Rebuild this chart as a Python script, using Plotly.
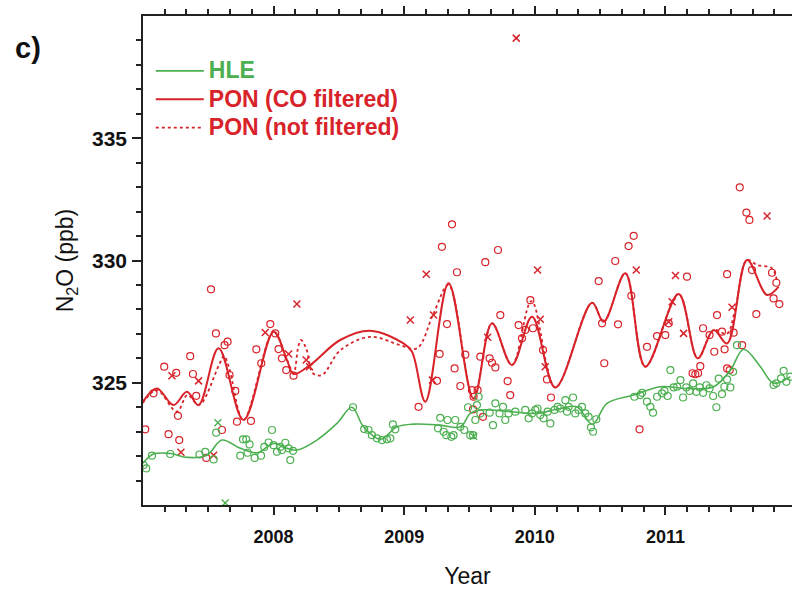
import plotly.graph_objects as go

# ---- N2O series (decimal year, ppb) ----
RED = "#D8232A"
GREEN = "#4CAF50"

# HLE smoothed curve
hle_line_x = [2007.00, 2007.08, 2007.21, 2007.34, 2007.49, 2007.605, 2007.745, 2007.873, 2008.00,
              2008.103, 2008.179, 2008.332, 2008.485, 2008.60, 2008.689, 2008.817, 2008.945,
              2009.072, 2009.276, 2009.43, 2009.506, 2009.583, 2009.812, 2010.017, 2010.195,
              2010.323, 2010.44, 2010.553, 2010.757, 2010.961, 2011.165, 2011.369, 2011.497,
              2011.599, 2011.727, 2011.828, 2011.956]
hle_line_y = [321.71, 322.09, 322.11, 321.95, 322.04, 322.66, 322.32, 322.14, 322.52,
              322.32, 322.25, 322.66, 323.34, 324.00, 323.20, 322.69, 323.20,
              323.31, 323.27, 323.20, 323.75, 323.89, 323.82, 323.75, 323.95,
              324.02, 323.30, 324.16, 324.50, 324.84, 324.77, 324.84, 325.52,
              326.37, 325.66, 324.98, 325.25]

# PON, CO filtered smoothed curve
pon_f_x = [2007.00, 2007.107, 2007.234, 2007.337, 2007.426, 2007.579, 2007.77, 2008.00, 2008.103,
           2008.153, 2008.281, 2008.51, 2008.74, 2008.995, 2009.06, 2009.162, 2009.34, 2009.531,
           2009.672, 2009.825, 2009.979, 2010.157, 2010.438, 2010.527, 2010.693, 2010.846,
           2011.101, 2011.247, 2011.369, 2011.472, 2011.625, 2011.778, 2011.867]
pon_f_y = [324.23, 324.77, 324.09, 324.63, 324.09, 326.41, 323.48, 327.09, 325.93,
           325.36, 325.73, 326.75, 327.13, 326.61, 326.27, 324.23, 329.07, 324.36,
           327.43, 325.73, 327.70, 324.81, 328.27, 327.50, 329.48, 325.66,
           328.63, 326.00, 327.16, 326.61, 330.02, 328.59, 328.93]

# PON, not filtered smoothed curve
pon_u_x = [2007.00, 2007.107, 2007.26, 2007.34, 2007.43, 2007.58, 2007.62, 2007.66, 2007.77,
           2008.00, 2008.103, 2008.153, 2008.19, 2008.21, 2008.25, 2008.30, 2008.371, 2008.511,
           2008.74, 2008.97, 2009.098, 2009.225, 2009.34, 2009.531, 2009.672, 2009.825,
           2009.975, 2010.157, 2010.438, 2010.527, 2010.693, 2010.846, 2011.101, 2011.247,
           2011.369, 2011.47, 2011.53, 2011.625, 2011.70, 2011.816, 2011.854]
pon_u_y = [324.18, 324.70, 323.82, 324.50, 324.10, 325.70, 326.10, 325.60, 323.48,
           327.09, 325.93, 325.40, 326.50, 326.75, 326.40, 325.40, 325.32, 326.33,
           326.88, 326.54, 326.41, 327.84, 329.00, 324.36, 327.43, 325.73,
           328.34, 324.81, 328.27, 327.50, 329.48, 325.66, 328.63, 326.00,
           327.16, 327.00, 327.90, 330.02, 329.82, 329.68, 329.13]

# HLE flask samples
hle_o_x = [2007.005, 2007.025, 2007.069, 2007.209, 2007.433, 2007.477, 2007.541, 2007.561, 2007.745,
           2007.766, 2007.791, 2007.816, 2007.801, 2007.855, 2007.904, 2007.929, 2007.962, 2007.988,
           2008.000, 2008.026, 2008.051, 2008.064, 2008.090, 2008.115, 2008.128, 2008.149,
           2008.608, 2008.694, 2008.727, 2008.753, 2008.792, 2008.830, 2008.868, 2008.894,
           2008.914, 2008.932, 2009.259, 2009.276, 2009.302, 2009.322, 2009.332, 2009.361,
           2009.378, 2009.391, 2009.430, 2009.460, 2009.489, 2009.506, 2009.527, 2009.557,
           2009.570, 2009.583, 2009.545, 2009.654, 2009.680, 2009.698, 2009.730, 2009.757,
           2009.774, 2009.799, 2009.851, 2009.927, 2009.953, 2009.979, 2010.004, 2010.021,
           2010.042, 2010.067, 2010.098, 2010.119, 2010.152, 2010.175, 2010.195, 2010.234,
           2010.247, 2010.259, 2010.293, 2010.310, 2010.335, 2010.361, 2010.387, 2010.412,
           2010.430, 2010.446, 2010.471, 2010.762, 2010.808, 2010.821, 2010.859, 2010.885,
           2010.905, 2010.936, 2010.974, 2010.992, 2011.017, 2011.038, 2011.063, 2011.089,
           2011.115, 2011.135, 2011.160, 2011.185, 2011.212, 2011.237, 2011.262, 2011.288,
           2011.314, 2011.338, 2011.365, 2011.390, 2011.408, 2011.433, 2011.451, 2011.472,
           2011.497, 2011.518, 2011.548, 2011.828, 2011.849, 2011.885, 2011.905, 2011.926,
           2011.956]
hle_o_y = [321.64, 321.50, 322.02, 322.09, 322.07, 322.18, 321.87, 322.96, 322.02,
           322.69, 322.69, 322.48, 322.14, 321.93, 322.02, 322.38, 322.56, 323.07,
           322.45, 322.18, 322.38, 322.25, 322.55, 322.32, 321.84, 322.22,
           324.00, 323.11, 323.07, 322.86, 322.73, 322.66, 322.69, 322.73,
           323.30, 323.10, 323.14, 323.57, 323.00, 322.86, 323.48, 322.79,
           322.86, 323.48, 323.20, 323.07, 324.00, 322.86, 322.86, 324.09,
           324.43, 323.75, 323.48, 323.78, 323.27, 324.16, 323.75, 324.02,
           323.48, 323.75, 323.82, 323.89, 323.55, 323.75, 323.89, 323.95,
           323.68, 323.55, 323.82, 323.34, 323.89, 324.02, 323.95, 324.29,
           323.82, 324.02, 324.40, 323.75, 323.89, 324.02, 323.75, 323.61,
           323.18, 323.00, 323.51, 324.43, 324.50, 324.59, 324.23, 324.02,
           323.78, 324.43, 324.57, 324.67, 324.46, 325.52, 324.81, 324.84,
           325.11, 324.40, 324.81, 324.67, 324.98, 324.63, 324.81, 324.59,
           324.90, 324.77, 324.46, 324.00, 325.17, 324.54, 324.84, 325.14,
           324.81, 325.45, 326.54, 324.91, 324.98, 325.18, 325.49, 325.04,
           325.25]
hle_x_x = [2007.574, 2007.630, 2009.531]
hle_x_y = [323.37, 320.09, 322.82]

# PON flask samples
pon_o_x = [2007.018, 2007.081, 2007.163, 2007.196, 2007.255, 2007.268, 2007.278, 2007.362, 2007.383,
           2007.408, 2007.485, 2007.521, 2007.559, 2007.605, 2007.625, 2007.648, 2007.663, 2007.707,
           2007.720, 2007.827, 2007.868, 2007.906, 2007.975, 2008.013, 2008.038, 2008.064,
           2008.097, 2008.153, 2009.110, 2009.251, 2009.271, 2009.289, 2009.328, 2009.386,
           2009.404, 2009.430, 2009.468, 2009.366, 2009.621, 2009.718, 2009.736, 2009.583,
           2009.654, 2009.672, 2009.698, 2009.519, 2009.562, 2009.531, 2009.792, 2009.812,
           2009.603, 2009.527, 2009.876, 2009.902, 2009.927, 2009.966, 2009.986, 2010.063,
           2010.093, 2010.124, 2010.489, 2010.515, 2010.532, 2010.616, 2010.637, 2010.718,
           2010.757, 2010.739, 2010.802, 2010.859, 2010.936, 2010.999, 2011.025, 2011.165,
           2011.208, 2011.229, 2011.250, 2011.267, 2011.288, 2011.338, 2011.374, 2011.395,
           2011.433, 2011.453, 2011.472, 2011.472, 2011.492, 2011.522, 2011.587, 2011.569,
           2011.620, 2011.643, 2011.663, 2011.696, 2011.816, 2011.849, 2011.828, 2011.872]
pon_o_y = [323.10, 324.57, 325.66, 322.90, 325.41, 323.65, 322.66, 326.09, 325.36,
           324.47, 321.93, 328.82, 327.02, 323.07, 326.54, 326.68, 325.32, 324.67,
           323.41, 323.44, 326.37, 325.80, 327.40, 327.02, 326.38, 326.00,
           325.52, 325.29, 324.02, 325.08, 326.18, 330.56, 327.40, 325.59,
           329.52, 324.87, 326.15, 331.48, 329.93, 330.43, 327.77, 326.07,
           326.00, 325.82, 325.63, 324.70, 324.70, 324.43, 325.07, 324.50,
           323.61, 323.91, 327.36, 326.82, 327.16, 328.38, 327.23, 326.34,
           325.14, 324.40, 329.16, 327.43, 325.80, 329.98, 327.39, 330.59,
           331.01, 328.56, 323.10, 326.47, 326.91, 326.95, 327.43, 329.34,
           325.39, 325.35, 325.39, 325.68, 327.23, 326.95, 326.27, 327.77,
           327.09, 326.37, 329.44, 325.59, 325.52, 327.05, 326.54, 332.99,
           331.96, 331.66, 329.61, 327.81, 329.50, 329.09, 328.45, 328.22]
pon_x_x = [2007.222, 2007.291, 2007.426, 2007.541, 2007.936, 2008.115, 2008.179, 2008.250, 2008.276,
           2009.047, 2009.169, 2009.225, 2009.217, 2009.639, 2010.021, 2010.042, 2010.080,
           2010.777, 2011.052, 2011.025, 2011.077, 2011.139, 2011.510, 2011.778, 2009.858]
pon_x_y = [325.29, 322.16, 325.08, 322.04, 327.06, 326.18, 328.22, 325.93, 325.66,
           327.57, 329.44, 327.77, 325.11, 326.86, 329.61, 327.60, 325.66,
           329.61, 328.31, 327.50, 329.39, 327.02, 328.09, 331.82, 339.09]

# Axis extents (years / ppb)
year_range = [2007.0005, 2011.969]
ppb_range = [320.005, 339.995]
labelled_years = [2008, 2009, 2010, 2011]
labelled_ppb = [325, 330, 335]

# Two-monthly ticks on the time axis, 1 ppb ticks on the N2O axis;
# only whole years / multiples of 5 ppb carry a label.
month_ticks = [2007 + k / 6 for k in range(1, 30)]
month_text = [str(round(v)) if abs(v - round(v)) < 1e-6 and round(v) in labelled_years else ""
              for v in month_ticks]
ppb_fine = list(range(321, 340))
ppb_text = [str(v) if v in labelled_ppb else "" for v in ppb_fine]

FONT = "Liberation Sans, Arial, sans-serif"
AXIS_COLOR = "#222"

fig = go.Figure()


def markers(x, y, color, symbol, size, width, axes=("x", "y")):
    fig.add_trace(go.Scatter(
        x=x, y=y, mode="markers", showlegend=False, hoverinfo="skip",
        xaxis=axes[0], yaxis=axes[1],
        marker=dict(symbol=symbol, size=size, color=color,
                    line=dict(color=color, width=width)),
    ))


# HLE samples sit on the overlay axes carrying the long ticks (same ranges)
markers(hle_o_x, hle_o_y, GREEN, "circle-open", 7, 1.2, axes=("x2", "y2"))
markers(hle_x_x, hle_x_y, GREEN, "x-thin-open", 7, 1.4, axes=("x2", "y2"))
markers(pon_o_x, pon_o_y, RED, "circle-open", 7, 1.2)
markers(pon_x_x, pon_x_y, RED, "x-thin-open", 7, 1.5)


def legend_name(text, color):
    return f"<span style='color:{color};font-size:23px'><b>{text}</b></span>"


fig.add_trace(go.Scatter(
    x=hle_line_x, y=hle_line_y, mode="lines", line=dict(color=GREEN, width=1.6, shape="spline"),
    name=legend_name("HLE", GREEN),
))
fig.add_trace(go.Scatter(
    x=pon_f_x, y=pon_f_y, mode="lines", line=dict(color=RED, width=2, shape="spline"),
    name=legend_name("PON (CO filtered)", RED),
))
fig.add_trace(go.Scatter(
    x=pon_u_x, y=pon_u_y, mode="lines", line=dict(color=RED, width=1.8, shape="spline", dash="dot"),
    name=legend_name("PON (not filtered)", RED),
))

fig.update_layout(
    xaxis=dict(
        range=year_range, tickmode="array", tickvals=month_ticks, ticktext=month_text,
        ticks="outside", ticklen=5, tickwidth=1.5, tickcolor=AXIS_COLOR,
        showline=True, linecolor=AXIS_COLOR, linewidth=1.5, mirror="ticks",
        showgrid=False, zeroline=False, ticklabelstandoff=10,
        tickfont=dict(family=FONT, size=18, color="#111", weight="bold"),
        title=dict(text="Year", font=dict(family=FONT, size=23, color="#111"), standoff=22),
    ),
    yaxis=dict(
        range=ppb_range, tickmode="array", tickvals=ppb_fine, ticktext=ppb_text,
        ticks="outside", ticklen=5, tickwidth=1.5, tickcolor=AXIS_COLOR,
        showline=True, linecolor=AXIS_COLOR, linewidth=1.5,
        showgrid=False, zeroline=False, ticklabelstandoff=5,
        tickfont=dict(family=FONT, size=21, color="#111", weight="bold"),
        title=dict(text="N<sub>2</sub>O (ppb)", font=dict(family=FONT, size=23, color="#111"),
                   standoff=12),
    ),
    xaxis2=dict(
        overlaying="x", anchor="y2", side="bottom", range=year_range,
        tickmode="array", tickvals=labelled_years, mirror="ticks",
        ticks="outside", ticklen=9, tickwidth=1.5, tickcolor=AXIS_COLOR,
        showticklabels=False, showline=False, showgrid=False, zeroline=False,
    ),
    yaxis2=dict(
        overlaying="y", anchor="x2", side="left", range=ppb_range,
        tickmode="array", tickvals=labelled_ppb,
        ticks="outside", ticklen=10, tickwidth=1.5, tickcolor=AXIS_COLOR,
        showticklabels=False, showline=False, showgrid=False, zeroline=False,
    ),
)

fig.add_annotation(
    text="<b>c)</b>", xref="paper", yref="paper", x=-0.177, y=0.935,
    xanchor="center", yanchor="middle", showarrow=False,
    font=dict(family=FONT, size=29, color="#111"),
)

fig.update_layout(
    width=792, height=594,
    margin=dict(l=143, r=0, t=16, b=89),
    paper_bgcolor="white", plot_bgcolor="white",
    showlegend=True,
    legend=dict(x=0.012, y=0.927, xanchor="left", yanchor="top",
                font=dict(family=FONT, size=19.5), itemwidth=48,
                bgcolor="rgba(0,0,0,0)", tracegroupgap=0),
)

fig.write_html("out.html")
